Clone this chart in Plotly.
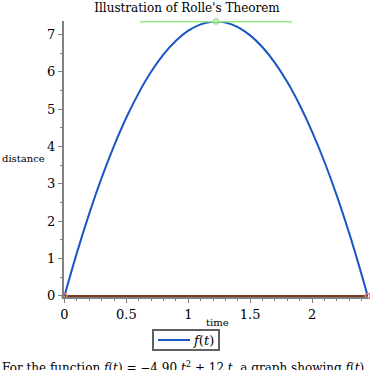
import plotly.graph_objects as go

# data
t_vals = [0, 0.1, 0.2, 0.3, 0.4, 0.5, 0.6, 0.7, 0.8, 0.9, 1.0, 1.1, 1.2, 1.2245,
          1.3, 1.4, 1.5, 1.6, 1.7, 1.8, 1.9, 2.0, 2.1, 2.2, 2.3, 2.4, 2.449]
f_vals = [0, 1.151, 2.204, 3.159, 4.016, 4.775, 5.436, 5.999, 6.464, 6.831, 7.1,
          7.271, 7.344, 7.347, 7.319, 7.196, 6.975, 6.656, 6.239, 5.724, 5.111,
          4.4, 3.591, 2.684, 1.679, 0.576, 0]
tangent_t = [0.612, 1.837]
tangent_y = [7.347, 7.347]
peak_t = [1.2245]
peak_y = [7.347]
root_t = [0, 2.449]
root_y = [0, 0]
x_ticks = [0, 0.5, 1, 1.5, 2]
x_tick_labels = ["0", "0.5", "1", "1.5", "2"]
y_ticks = [0, 1, 2, 3, 4, 5, 6, 7]
legend_label = "<i>f</i>(<i>t</i>)"

FONT = "DejaVu Serif"
BLUE = "#1a56c4"


def px(x):
    return (x - 64) / 304


def py(y):
    return (297 - y) / 276


fig = go.Figure()
fig.add_trace(go.Scatter(x=root_t, y=root_y, mode="lines",
                         line=dict(color="#7a3b22", width=2), showlegend=False, hoverinfo="skip"))
fig.add_trace(go.Scatter(x=t_vals, y=f_vals, mode="lines", line_shape="spline",
                         line=dict(color=BLUE, width=2), name=legend_label, showlegend=False))
fig.add_trace(go.Scatter(x=tangent_t, y=tangent_y, mode="lines",
                         line=dict(color="#98e88a", width=2), showlegend=False))
fig.add_trace(go.Scatter(x=peak_t, y=peak_y, mode="markers", cliponaxis=False,
                         marker=dict(symbol="circle-open", size=5, color="#98e88a", line=dict(width=1.5)),
                         showlegend=False))
fig.add_trace(go.Scatter(x=root_t, y=root_y, mode="markers", cliponaxis=False,
                         marker=dict(symbol="circle-open", size=5, color="#f08060", line=dict(width=1.5)),
                         showlegend=False))

axis_common = dict(showgrid=False, zeroline=False, showline=True, linecolor="#808080",
                   linewidth=2, ticks="outside", ticklen=4, tickwidth=1, tickcolor="#808080",
                   tickfont=dict(family=FONT, size=13, color="black"))
fig.update_xaxes(range=[-0.004, 2.452], tickvals=x_ticks, ticktext=x_tick_labels,
                 minor=dict(dtick=0.1, ticks="outside", ticklen=2, tickcolor="#808080"),
                 **axis_common)
fig.update_yaxes(range=[-0.03, 7.36], tickvals=y_ticks,
                 minor=dict(dtick=0.5, ticks="outside", ticklen=2, tickcolor="#808080"),
                 **axis_common)

fig.update_layout(
    width=370, height=370,
    margin=dict(l=64, r=2, t=21, b=73, autoexpand=False),
    paper_bgcolor="white", plot_bgcolor="white",
    font=dict(family=FONT, color="black"),
    title=dict(text="Illustration of Rolle's Theorem", x=px(187), xref="paper",
               xanchor="center", y=1 - 8 / 370, yanchor="middle", font=dict(family=FONT, size=12)),
    showlegend=False,
)
# legend box drawn by hand
fig.add_shape(type="rect", xref="paper", yref="paper", x0=px(153), x1=px(219), y0=py(330), y1=py(350),
              line=dict(color="#606060", width=2), fillcolor="white")
fig.add_shape(type="line", xref="paper", yref="paper", x0=px(158), x1=px(190), y0=py(340), y1=py(340),
              line=dict(color=BLUE, width=2))
fig.add_annotation(text=legend_label, xref="paper", yref="paper", x=px(191), xanchor="left",
                   y=py(340), yanchor="middle", showarrow=False, font=dict(family=FONT, size=13))

fig.add_annotation(text="distance", xref="paper", yref="paper", x=-64 / 304, xanchor="left",
                   y=py(158), yanchor="middle", showarrow=False,
                   font=dict(family=FONT, size=10))
fig.add_annotation(text="time", xref="paper", yref="paper", x=px(217), xanchor="center",
                   y=py(322), yanchor="middle", showarrow=False,
                   font=dict(family=FONT, size=10))
fig.add_annotation(text="For the function <i>f</i>(<i>t</i>) = \u22124.90 <i>t</i><sup>2</sup> + 12 <i>t</i>, a graph showing <i>f</i>(<i>t</i>)",
                   xref="paper", yref="paper", x=-64 / 304, xanchor="left",
                   y=py(367), yanchor="middle", showarrow=False,
                   font=dict(family=FONT, size=12))

fig.write_html("out.html", config={"displayModeBar": False},
               post_script="document.body.style.margin='0';document.body.style.overflow='hidden';")
